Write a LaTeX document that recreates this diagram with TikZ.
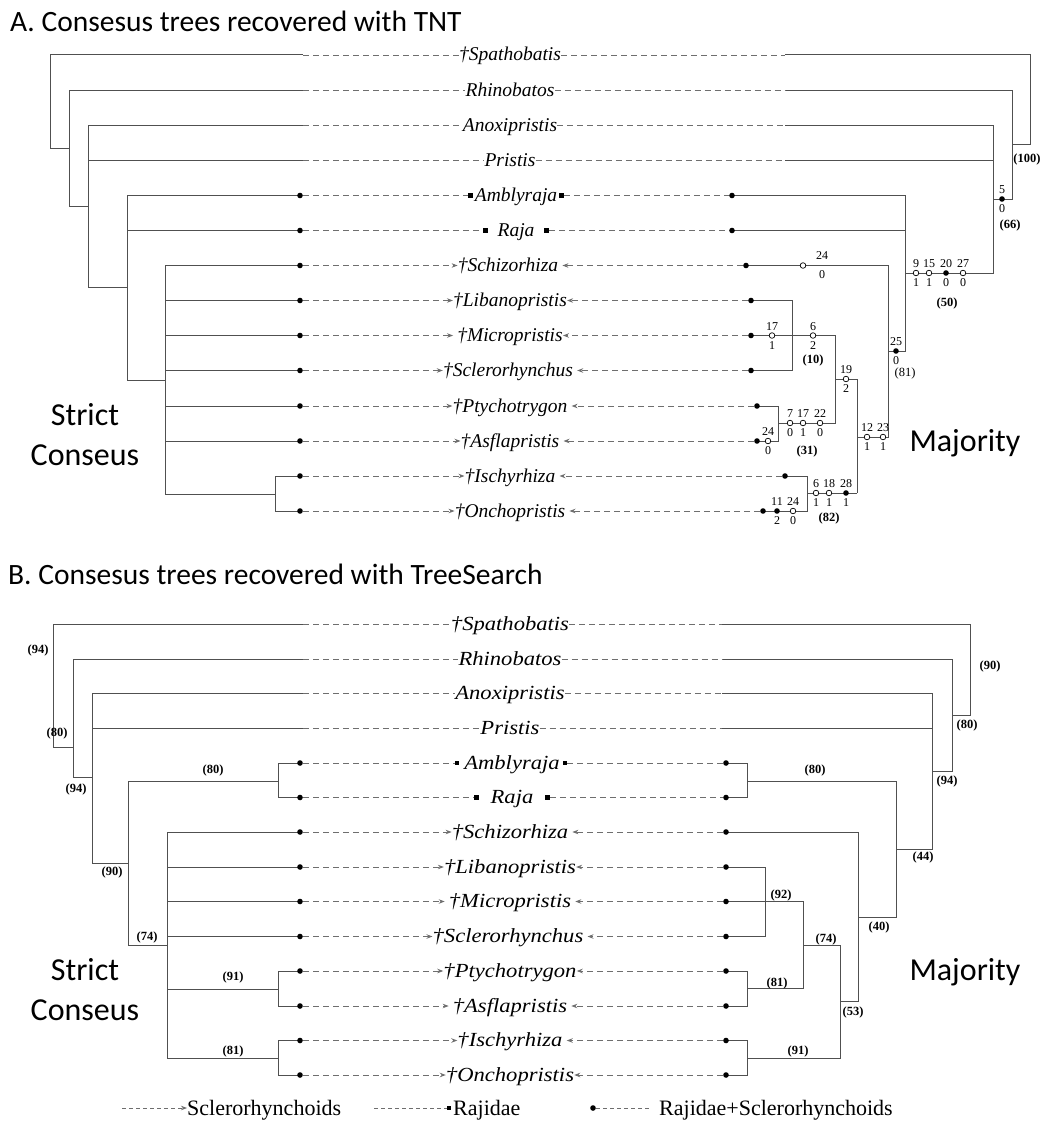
\documentclass[tikz,border=0pt]{standalone}
\usepackage{fontspec}
\usepackage{graphicx}
\setmainfont{Liberation Serif}
\newfontfamily\calib{Carlito}
\usetikzlibrary{arrows.meta,calc}
\definecolor{tg}{HTML}{505050}
\definecolor{dg}{HTML}{6E6E6E}
\newcommand{\wideB}[1]{\scalebox{1.13}[1]{#1}}
\newcommand{\ost}[5]{\node[wdot] (#1) at (#2,#3) {}; \node[chs] (#1t) at (#2,#3-9) {#4}; \node[chs] (#1b) at (#2,#3+10) {#5};}
\newcommand{\fst}[5]{\node[bdot] (#1) at (#2,#3) {}; \node[chs] (#1t) at (#2,#3-9) {#4}; \node[chs] (#1b) at (#2,#3+10) {#5};}
\begin{document}
\begin{tikzpicture}[x=1pt,y=-1pt,
  br/.style={draw=tg,line width=1pt},
  dsh/.style={draw=dg,line width=0.9pt,dash pattern=on 6pt off 4pt},
  arr/.style={dsh,-{Stealth[length=6pt,width=4.5pt]}},
  arrg/.style={arr,shorten >=4pt},
  tA/.style={font=\fontsize{19.5}{21}\selectfont\itshape,inner sep=0pt,anchor=base},
  tB/.style={font=\fontsize{20}{21}\selectfont\itshape,inner sep=0pt,anchor=base},
  bdot/.style={circle,fill=black,inner sep=0pt,minimum size=5.6pt},
  wdot/.style={circle,draw=black,fill=white,line width=0.7pt,inner sep=0pt,minimum size=5.6pt},
  sq/.style={rectangle,fill=black,inner sep=0pt,minimum size=4.4pt},
  chs/.style={font=\fontsize{12}{12}\selectfont,inner sep=0pt},
  bsv/.style={font=\fontsize{12.5}{13}\selectfont\bfseries,inner sep=0pt},
  rsv/.style={font=\fontsize{12.5}{13}\selectfont,inner sep=0pt},
  bigtxt/.style={font=\calib\fontsize{32}{40}\selectfont,inner sep=0pt},
  ttl/.style={font=\calib\fontsize{29.5}{34}\selectfont,inner sep=0pt,anchor=base west},
  lgd/.style={font=\fontsize{22}{23}\selectfont,inner sep=0pt,anchor=base west},
  ldsh/.style={draw=dg,line width=0.8pt,dash pattern=on 4pt off 3pt},
]
\useasboundingbox (0,0) rectangle (1048,1124);

% ---------- titles ----------
\node[ttl] (titA) at (10,32) {A. Consesus trees recovered with TNT};
\node[ttl] (titB) at (8,584) {B. Consesus trees recovered with TreeSearch};

% =================== PART A ===================
\node[tA] (Aspa) at (510,61) {†Spathobatis};
\node[tA] (Arhi) at (510,96) {Rhinobatos};
\node[tA] (Aano) at (510,131.5) {Anoxipristis};
\node[tA] (Apri) at (510,166.5) {Pristis};
\node[tA] (Aamb) at (516,201.5) {Amblyraja};
\node[tA] (Araj) at (516,236.5) {Raja};
\node[tA] (Asch) at (508,271.5) {†Schizorhiza};
\node[tA] (Alib) at (510,306.5) {†Libanopristis};
\node[tA] (Amic) at (510,341.5) {†Micropristis};
\node[tA] (Ascl) at (508,376.5) {†Sclerorhynchus};
\node[tA] (Apty) at (510,412) {†Ptychotrygon};
\node[tA] (Aasf) at (510,447) {†Asflapristis};
\node[tA] (Aisc) at (510,482) {†Ischyrhiza};
\node[tA] (Aonc) at (510,517) {†Onchopristis};

\coordinate (AspaL) at (303,55);
\coordinate (ArhiL) at (303,90);
\coordinate (AanoL) at (303,125.5);
\coordinate (ApriL) at (303,160.5);
\coordinate (AspaR) at (785,55);
\coordinate (ArhiR) at (785,90);
\coordinate (AanoR) at (785,125.5);
\coordinate (ApriR) at (785,160.5);

% left tree A
\draw[br] (AspaL) -- (50,55) -- (50,148) -- (69,148);
\draw[br] (ArhiL) -- (69,90) -- (69,206) -- (88,206);
\draw[br] (AanoL) -- (88,125.5) -- (88,287) -- (127,287);
\draw[br] (ApriL) -- (88,160.5);
\draw[br] (300,195.5) -- (127,195.5) -- (127,380) -- (165,380);
\draw[br] (300,230.5) -- (127,230.5);
\draw[br] (300,265.5) -- (165,265.5) -- (165,494) -- (275,494);
\draw[br] (300,300.5) -- (165,300.5);
\draw[br] (300,335.5) -- (165,335.5);
\draw[br] (300,370.5) -- (165,370.5);
\draw[br] (300,406) -- (165,406);
\draw[br] (300,441) -- (165,441);
\draw[br] (300,476) -- (275,476) -- (275,511) -- (300,511);

% right tree A
\draw[br] (AspaR) -- (1030,55) -- (1030,144) -- (1012,144);
\draw[br] (ArhiR) -- (1012,90) -- (1012,199) -- (993,199);
\draw[br] (AanoR) -- (993,125.5) -- (993,273) -- (905,273);
\draw[br] (ApriR) -- (993,160.5);
\draw[br] (732,195.5) -- (905,195.5) -- (905,351) -- (888,351);
\draw[br] (732,230.5) -- (905,230.5);
\draw[br] (746,265.5) -- (888,265.5) -- (888,437) -- (857,437);
\draw[br] (857,379) -- (857,493);
\draw[br] (857,379) -- (835,379);
\draw[br] (751,335.5) -- (835,335.5) -- (835,423) -- (778,423);
\draw[br] (751,300.5) -- (792,300.5) -- (792,370.5) -- (751,370.5);
\draw[br] (757,406) -- (778,406) -- (778,441) -- (757,441);
\draw[br] (857,493) -- (807,493);
\draw[br] (785,476) -- (807,476) -- (807,511) -- (763,511);

% dots A
\foreach \n/\y in {amb/195.5,raj/230.5,sch/265.5,lib/300.5,mic/335.5,scl/370.5,pty/406,asf/441,isc/476,onc/511}
  \node[bdot] (A\n L) at (300,\y) {};
\node[bdot] (AambR) at (732,195.5) {};
\node[bdot] (ArajR) at (732,230.5) {};
\node[bdot] (AschR) at (746,265.5) {};
\node[bdot] (AlibR) at (751,300.5) {};
\node[bdot] (AmicR) at (751,335.5) {};
\node[bdot] (AsclR) at (751,370.5) {};
\node[bdot] (AptyR) at (757,406) {};
\node[bdot] (AasfR) at (757,441) {};
\node[bdot] (AiscR) at (785,476) {};
\node[bdot] (AoncR) at (763,511) {};

% dashed connectors A
\foreach \n in {spa,rhi,ano,pri}{
  \draw[dsh] (A\n L) -- (A\n.west |- A\n L);
  \draw[dsh] (A\n.east |- A\n R) -- (A\n R);
}
\node[sq] (AambSa) at ($(Aamb.west |- AambL)+(-4,0)$) {};
\node[sq] (AambSb) at ($(Aamb.east |- AambR)+(4,0)$) {};
\draw[dsh] (AambL) -- (AambSa);
\draw[dsh] (AambSb) -- (AambR);
\node[sq] (ArajSa) at ($(Araj.west |- ArajL)+(-12,0)$) {};
\node[sq] (ArajSb) at ($(Araj.east |- ArajR)+(12,0)$) {};
\draw[dsh] (ArajL) -- (ArajSa);
\draw[dsh] (ArajSb) -- (ArajR);
\draw[arr] (AschL) -- (Asch.west |- AschL);
\draw[arr] (AlibL) -- (Alib.west |- AlibL);
\draw[arrg] (AmicL) -- (Amic.west |- AmicL);
\draw[arr] (AsclL) -- (Ascl.west |- AsclL);
\draw[arr] (AptyL) -- (Apty.west |- AptyL);
\draw[arr] (AasfL) -- (Aasf.west |- AasfL);
\draw[arr] (AiscL) -- (Aisc.west |- AiscL);
\draw[arr] (AoncL) -- (Aonc.west |- AoncL);
\draw[arrg] (AschR) -- (Asch.east |- AschR);
\draw[arr] (AlibR) -- (Alib.east |- AlibR);
\draw[arr] (AmicR) -- (Amic.east |- AmicR);
\draw[arrg] (AsclR) -- (Ascl.east |- AsclR);
\draw[arrg] (AptyR) -- (Apty.east |- AptyR);
\draw[arrg] (AasfR) -- (Aasf.east |- AasfR);
\draw[arrg] (AiscR) -- (Aisc.east |- AiscR);
\draw[arrg] (AoncR) -- (Aonc.east |- AoncR);

% character states and support A
\fst{s5}{1002}{199}{5}{0}
\node[bsv] (v66) at (1010,225) {(66)};
\node[bsv] (v100) at (1027,159) {(100)};
\ost{s9}{916}{273}{9}{1}
\ost{s15}{929}{273}{15}{1}
\fst{s20}{946}{273}{20}{0}
\ost{s27}{963}{273}{27}{0}
\node[bsv] (v50) at (947,303) {(50)};
\fst{s25}{896}{351}{25}{0}
\node[rsv] (v81) at (905,373) {(81)};
\node[wdot] (s24a) at (803,265.5) {};
\node[chs] (s24at) at (822,256) {24};
\node[chs] (s24ab) at (822,275) {0};
\ost{s12}{867}{437}{12}{1}
\ost{s23}{883}{437}{23}{1}
\ost{s19}{846}{379}{19}{2}
\ost{s17a}{772}{335.5}{17}{1}
\ost{s6a}{813}{335.5}{6}{2}
\node[bsv] (v10) at (813,360) {(10)};
\ost{s7}{790}{423}{7}{0}
\ost{s17b}{803}{423}{17}{1}
\ost{s22}{820}{423}{22}{0}
\node[bsv] (v31) at (807,451) {(31)};
\ost{s24b}{768}{441}{24}{0}
\ost{s6b}{816}{493}{6}{1}
\ost{s18}{829}{493}{18}{1}
\fst{s28}{846}{493}{28}{1}
\node[bsv] (v82) at (829,518) {(82)};
\fst{s11}{777}{511}{11}{2}
\ost{s24c}{793}{511}{24}{0}

\node[bigtxt,align=center] (scA) at (85,435) {Strict\\Conseus};
\node[bigtxt] (mjA) at (965,443) {Majority};

% =================== PART B ===================
\node[tB] (Bspa) at (510,630) {\wideB{†Spathobatis}};
\node[tB] (Brhi) at (510,665) {\wideB{Rhinobatos}};
\node[tB] (Bano) at (510,699.5) {\wideB{Anoxipristis}};
\node[tB] (Bpri) at (510,734) {\wideB{Pristis}};
\node[tB] (Bamb) at (512,769) {\wideB{Amblyraja}};
\node[tB] (Braj) at (512,803.5) {\wideB{Raja}};
\node[tB] (Bsch) at (510,838) {\wideB{†Schizorhiza}};
\node[tB] (Blib) at (510,873) {\wideB{†Libanopristis}};
\node[tB] (Bmic) at (510,907.5) {\wideB{†Micropristis}};
\node[tB] (Bscl) at (508,942.5) {\wideB{†Sclerorhynchus}};
\node[tB] (Bpty) at (510,977) {\wideB{†Ptychotrygon}};
\node[tB] (Basf) at (510,1012) {\wideB{†Asflapristis}};
\node[tB] (Bisc) at (510,1046.5) {\wideB{†Ischyrhiza}};
\node[tB] (Bonc) at (510,1081) {\wideB{†Onchopristis}};

\coordinate (BspaL) at (303,624);
\coordinate (BrhiL) at (303,659);
\coordinate (BanoL) at (303,693.5);
\coordinate (BpriL) at (303,728);
\coordinate (BspaR) at (722,624);
\coordinate (BrhiR) at (722,659);
\coordinate (BanoR) at (722,693.5);
\coordinate (BpriR) at (722,728);

% left tree B
\draw[br] (BspaL) -- (53,624) -- (53,747) -- (73,747);
\draw[br] (BrhiL) -- (73,659) -- (73,777) -- (92,777);
\draw[br] (BanoL) -- (92,693.5) -- (92,863) -- (128,863);
\draw[br] (BpriL) -- (92,728);
\draw[br] (278,781) -- (128,781) -- (128,945) -- (167,945);
\draw[br] (300,763) -- (278,763) -- (278,797.5) -- (300,797.5);
\draw[br] (300,832) -- (167,832) -- (167,1058) -- (278,1058);
\draw[br] (300,867) -- (167,867);
\draw[br] (300,901.5) -- (167,901.5);
\draw[br] (300,936.5) -- (167,936.5);
\draw[br] (167,989) -- (278,989);
\draw[br] (300,971) -- (278,971) -- (278,1006) -- (300,1006);
\draw[br] (300,1040.5) -- (278,1040.5) -- (278,1075) -- (300,1075);

% right tree B
\draw[br] (BspaR) -- (970,624) -- (970,715) -- (952,715);
\draw[br] (BrhiR) -- (952,659) -- (952,771) -- (932,771);
\draw[br] (BanoR) -- (932,693.5) -- (932,849) -- (896,849);
\draw[br] (BpriR) -- (932,728);
\draw[br] (747,781) -- (896,781) -- (896,917) -- (858,917);
\draw[br] (726,763) -- (747,763) -- (747,797.5) -- (726,797.5);
\draw[br] (726,832) -- (858,832) -- (858,1001) -- (840,1001);
\draw[br] (840,945) -- (840,1058) -- (747,1058);
\draw[br] (840,945) -- (803,945);
\draw[br] (726,901.5) -- (803,901.5) -- (803,988) -- (747,988);
\draw[br] (726,867) -- (765,867) -- (765,936.5) -- (726,936.5);
\draw[br] (726,971) -- (747,971) -- (747,1006) -- (726,1006);
\draw[br] (726,1040.5) -- (747,1040.5) -- (747,1075) -- (726,1075);

% dots B
\foreach \n/\y in {amb/763,raj/797.5,sch/832,lib/867,mic/901.5,scl/936.5,pty/971,asf/1006,isc/1040.5,onc/1075}{
  \node[bdot] (B\n L) at (300,\y) {};
  \node[bdot] (B\n R) at (726,\y) {};
}

% dashed connectors B
\foreach \n in {spa,rhi,ano,pri}{
  \draw[dsh] (B\n L) -- (B\n.west |- B\n L);
  \draw[dsh] (B\n.east |- B\n R) -- (B\n R);
}
\node[sq] (BambSa) at ($(Bamb.west |- BambL)+(-7,0)$) {};
\node[sq] (BambSb) at ($(Bamb.east |- BambR)+(5,0)$) {};
\draw[dsh] (BambL) -- (BambSa);
\draw[dsh] (BambSb) -- (BambR);
\node[sq] (BrajSa) at ($(Braj.west |- BrajL)+(-14,0)$) {};
\node[sq] (BrajSb) at ($(Braj.east |- BrajR)+(14,0)$) {};
\draw[dsh] (BrajL) -- (BrajSa);
\draw[dsh] (BrajSb) -- (BrajR);
\draw[arr] (BschL) -- (Bsch.west |- BschL);
\draw[arr] (BlibL) -- (Blib.west |- BlibL);
\draw[arrg] (BmicL) -- (Bmic.west |- BmicL);
\draw[arr] (BsclL) -- (Bscl.west |- BsclL);
\draw[arr] (BptyL) -- (Bpty.west |- BptyL);
\draw[arrg] (BasfL) -- (Basf.west |- BasfL);
\draw[arr] (BiscL) -- (Bisc.west |- BiscL);
\draw[arr] (BoncL) -- (Bonc.west |- BoncL);
\draw[arrg] (BschR) -- (Bsch.east |- BschR);
\draw[arr] (BlibR) -- (Blib.east |- BlibR);
\draw[arrg] (BmicR) -- (Bmic.east |- BmicR);
\draw[arrg] (BsclR) -- (Bscl.east |- BsclR);
\draw[arr] (BptyR) -- (Bpty.east |- BptyR);
\draw[arrg] (BasfR) -- (Basf.east |- BasfR);
\draw[arrg] (BiscR) -- (Bisc.east |- BiscR);
\draw[arr] (BoncR) -- (Bonc.east |- BoncR);

% support B left
\node[bsv] (w94a) at (38,650) {(94)};
\node[bsv] (w80a) at (57,733) {(80)};
\node[bsv] (w94b) at (76,789) {(94)};
\node[bsv] (w90a) at (112,872) {(90)};
\node[bsv] (w80b) at (213,770) {(80)};
\node[bsv] (w74a) at (147,937) {(74)};
\node[bsv] (w91a) at (233,977) {(91)};
\node[bsv] (w81a) at (233,1051) {(81)};
% support B right
\node[bsv] (w90b) at (990,666) {(90)};
\node[bsv] (w80c) at (967,725) {(80)};
\node[bsv] (w94c) at (947,781) {(94)};
\node[bsv] (w80d) at (815,770) {(80)};
\node[bsv] (w44) at (923,857) {(44)};
\node[bsv] (w40) at (879,927) {(40)};
\node[bsv] (w53) at (853,1012) {(53)};
\node[bsv] (w74b) at (826,939) {(74)};
\node[bsv] (w92) at (781,895) {(92)};
\node[bsv] (w81b) at (777,983) {(81)};
\node[bsv] (w91b) at (798,1051) {(91)};

\node[bigtxt,align=center] (scB) at (85,990) {Strict\\Conseus};
\node[bigtxt] (mjB) at (965,972) {Majority};

% =================== LEGEND ===================
\coordinate (lg1a) at (122,1108);
\node[lgd] (lg1) at (187,1115) {Sclerorhynchoids};
\draw[ldsh,-{Stealth[length=6pt,width=4.5pt]}] (lg1a) -- (lg1.west |- lg1a);
\coordinate (lg2a) at (374,1108);
\node[sq] (lg2s) at (449,1108) {};
\node[lgd] (lg2) at (453,1115) {Rajidae};
\draw[ldsh] (lg2a) -- (lg2s);
\node[bdot] (lg3d) at (593,1108) {};
\coordinate (lg3e) at (650,1108);
\node[lgd] (lg3) at (659,1115) {Rajidae+Sclerorhynchoids};
\draw[ldsh] (lg3d) -- (lg3e);
\end{tikzpicture}
\end{document}
